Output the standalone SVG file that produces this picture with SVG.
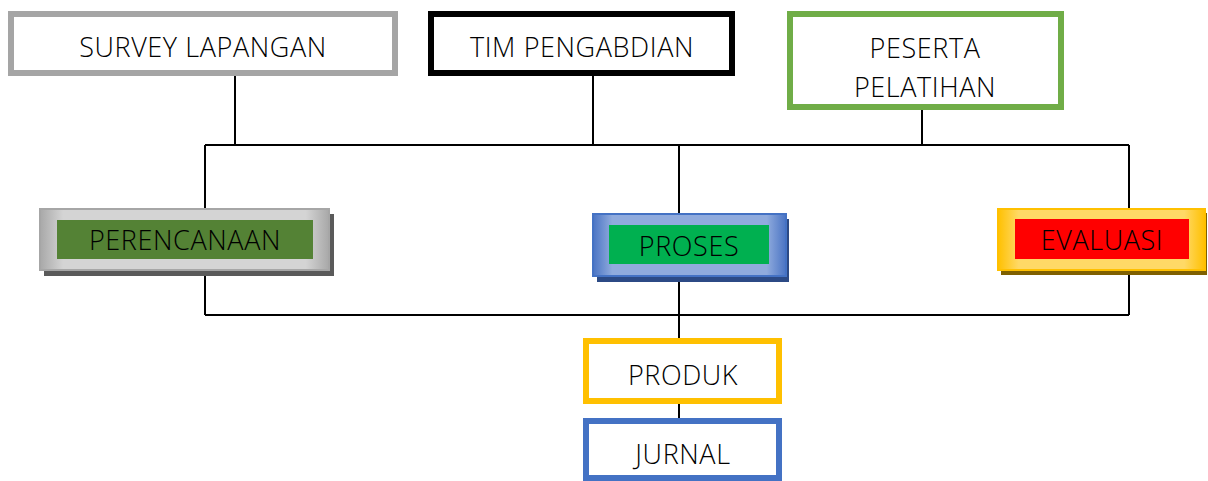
<svg xmlns="http://www.w3.org/2000/svg" width="1208" height="481" viewBox="0 0 1208 481">
<style>
text{font-family:"Open Sans","Liberation Sans",sans-serif;font-weight:300;font-size:27px;letter-spacing:0.6px;fill:#000;text-anchor:middle}
.plain{fill:#fff;stroke-width:6}
.ln{stroke:#000;stroke-width:2;fill:none}
</style>
<defs>
<linearGradient id="gGrey" x1="0" y1="0" x2="1" y2="0">
<stop offset="0" stop-color="#a8a8a8"/><stop offset="0.08" stop-color="#d4d4d4"/><stop offset="0.92" stop-color="#d4d4d4"/><stop offset="1" stop-color="#a8a8a8"/>
</linearGradient>
<linearGradient id="gBlue" x1="0" y1="0" x2="1" y2="0">
<stop offset="0" stop-color="#4a74c4"/><stop offset="0.1" stop-color="#90abdd"/><stop offset="0.9" stop-color="#90abdd"/><stop offset="1" stop-color="#4a74c4"/>
</linearGradient>
<linearGradient id="gGold" x1="0" y1="0" x2="1" y2="0">
<stop offset="0" stop-color="#ffc000"/><stop offset="0.1" stop-color="#ffd966"/><stop offset="0.9" stop-color="#ffd966"/><stop offset="1" stop-color="#ffc000"/>
</linearGradient>
</defs>
<g id="connectors">
<path class="ln" d="M235 75V145M593 75V145M922 110V145M205 145H1129M205 145V210M679 145V215M1129 145V208M205 272V315M1129 272V315M205 315H1129M679 282V340M679 404V420"/>
</g>
<g id="survey">
<rect class="plain" x="11" y="14" width="384" height="59" stroke="#a5a5a5"/>
<text x="203" y="57">SURVEY LAPANGAN</text>
</g>
<g id="tim">
<rect class="plain" x="431" y="14" width="301" height="59" stroke="#000"/>
<text x="582" y="57">TIM PENGABDIAN</text>
</g>
<g id="peserta">
<rect class="plain" x="790" y="14" width="271" height="93" stroke="#70ad47"/>
<text x="925" y="58">PESERTA</text>
<text x="925" y="97">PELATIHAN</text>
</g>
<g id="perencanaan">
<rect x="44" y="214" width="290" height="62" fill="#5a5a5a"/>
<rect x="40" y="209" width="289" height="61" fill="url(#gGrey)" stroke="#a6a6a6" stroke-width="2"/>
<rect x="57" y="220" width="256" height="39" fill="#548235"/>
<text x="185" y="250">PERENCANAAN</text>
</g>
<g id="proses">
<rect x="597" y="219" width="192" height="63" fill="#2c4a85"/>
<rect x="593" y="214" width="193" height="62" fill="url(#gBlue)" stroke="#4472c4" stroke-width="2"/>
<rect x="609" y="225" width="160" height="39" fill="#00b050"/>
<text x="689" y="256">PROSES</text>
</g>
<g id="evaluasi">
<rect x="1001" y="213" width="206" height="62" fill="#7f6000"/>
<rect x="998" y="209" width="207" height="61" fill="url(#gGold)" stroke="#ffc000" stroke-width="2"/>
<rect x="1015" y="219" width="174" height="40" fill="#ff0000"/>
<text x="1102" y="250">EVALUASI</text>
</g>
<g id="produk">
<rect class="plain" x="586" y="341" width="193" height="60" stroke="#ffc000"/>
<text x="683" y="385">PRODUK</text>
</g>
<g id="jurnal">
<rect class="plain" x="586" y="421" width="193" height="57" stroke="#4472c4"/>
<text x="683" y="464">JURNAL</text>
</g>
</svg>
